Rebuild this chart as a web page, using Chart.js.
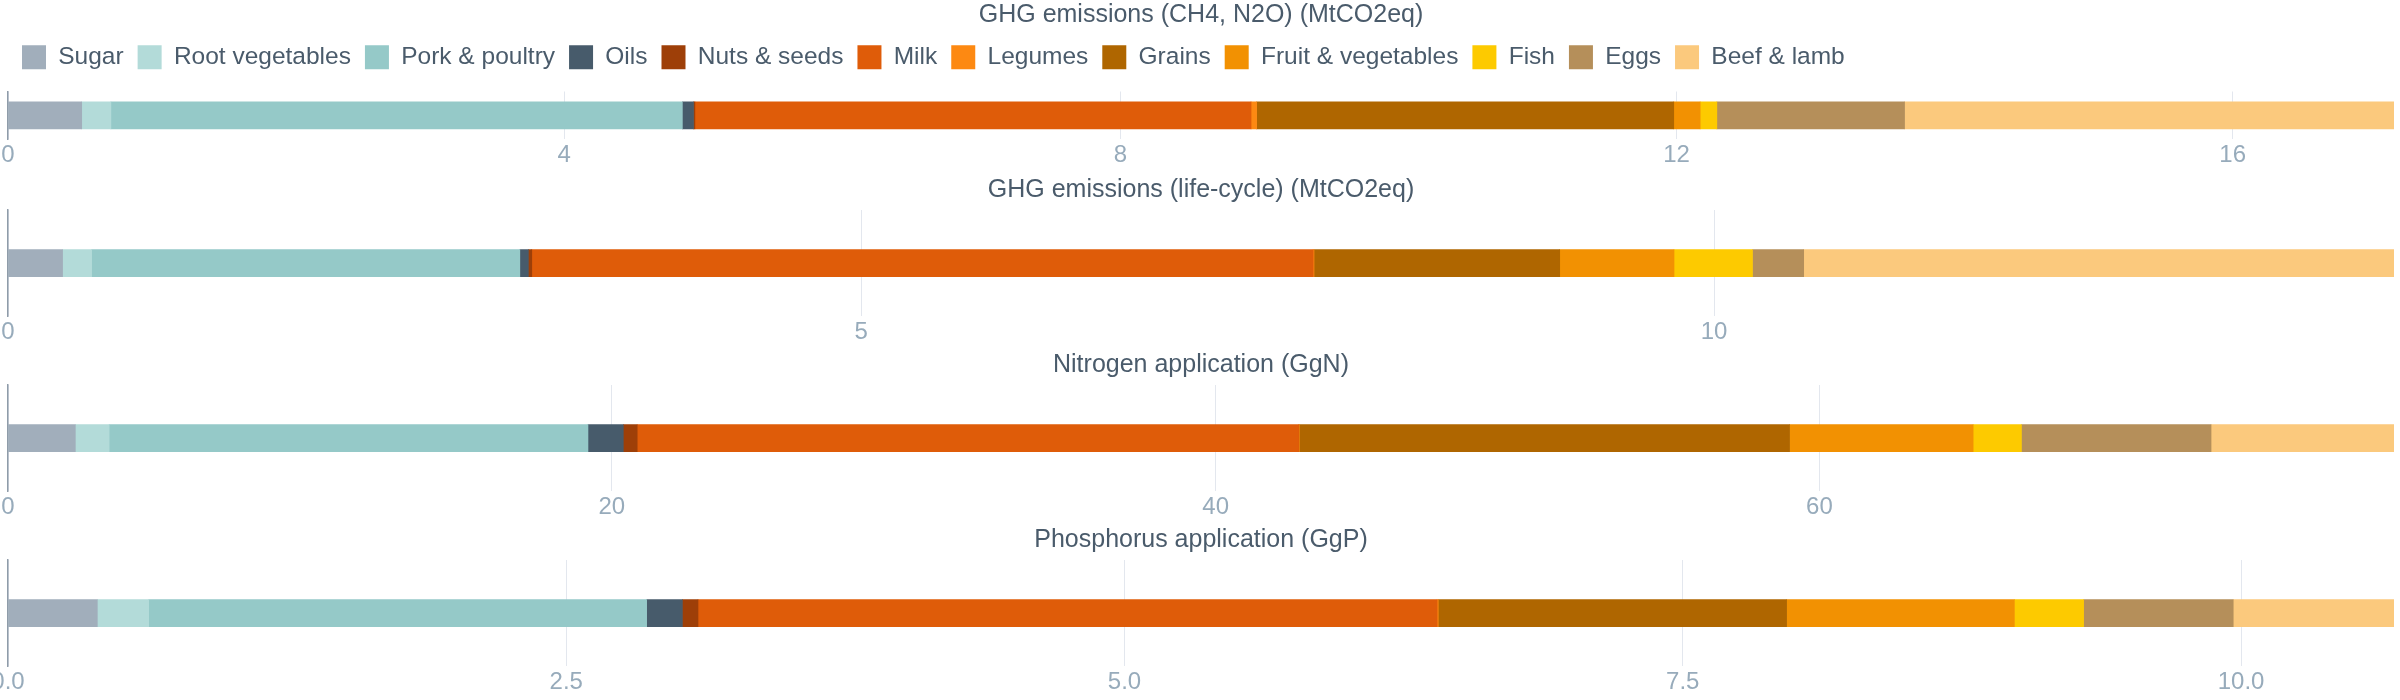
<!DOCTYPE html>
<html lang="en">

<head>
    <meta charset="UTF-8">
    <title>Food groups: emissions and nutrient application</title>
    <!-- Chart.js -->
    <script src="https://cdn.jsdelivr.net/npm/chart.js"></script>
    <style>
        body { margin: 0; background: #ffffff; }
        canvas { display: block; }
    </style>
</head>

<body>
    <canvas id="chart_0" width="2400" height="175"></canvas>
    <canvas id="chart_1" width="2400" height="175"></canvas>
    <canvas id="chart_2" width="2400" height="175"></canvas>
    <canvas id="chart_3" width="2400" height="175"></canvas>
    <script>
        // food groups, in stacking order
        const categories = ["Sugar", "Root vegetables", "Pork & poultry", "Oils", "Nuts & seeds", "Milk",
            "Legumes", "Grains", "Fruit & vegetables", "Fish", "Eggs", "Beef & lamb"];

        // one value per food group for each panel
        const ghgDirect = [0.53, 0.21, 4.11, 0.08, 0.01, 4.00, 0.04, 3.00, 0.19, 0.12, 1.35, 3.52];
        const ghgLifeCycle = [0.32, 0.17, 2.51, 0.05, 0.02, 4.58, 0.005, 1.44, 0.67, 0.46, 0.30, 3.46];
        const nitrogen = [2.23, 1.12, 15.86, 1.17, 0.46, 21.91, 0.02, 16.24, 6.08, 1.60, 6.28, 6.06];
        const phosphorus = [0.40, 0.23, 2.23, 0.16, 0.07, 3.31, 0.005, 1.56, 1.02, 0.31, 0.67, 0.72];

        const panelTitles = ["GHG emissions (CH4, N2O) (MtCO2eq)", "GHG emissions (life-cycle) (MtCO2eq)",
            "Nitrogen application (GgN)", "Phosphorus application (GgP)"];
        const panelValues = [ghgDirect, ghgLifeCycle, nitrogen, phosphorus];
        const tickSteps = [4, 5, 20, 2.5];
        const tickDecimals = [0, 0, 0, 1];

        const colors = ["#a1aebb", "#b3dbd9", "#95c9c8", "#475b6b", "#9e3f08", "#df5c09",
            "#fd8912", "#af6600", "#f29102", "#fdca00", "#b58f5a", "#fbc97d"];

        const textColor = "#4a5b6b";
        const tickColor = "#97abbb";

        Chart.defaults.font.family = "'Liberation Sans', Arial, sans-serif";
        Chart.defaults.animation = false;

        // a bit more room between the legend and the first bar
        const legendSpacing = {
            id: "legendSpacing",
            beforeInit(chart) {
                const fit = chart.legend.fit;
                chart.legend.fit = function () {
                    fit.bind(chart.legend)();
                    this.height += 12;
                };
            }
        };

        panelValues.forEach((values, i) => {
            const first = i === 0;
            const total = values.reduce((a, b) => a + b, 0);

            new Chart("chart_" + i, {
                type: "bar",
                data: {
                    labels: [panelTitles[i]],
                    datasets: categories.map((name, k) => ({
                        label: name,
                        data: [values[k]],
                        backgroundColor: colors[k],
                        borderWidth: 0,
                        barThickness: 27
                    }))
                },
                plugins: first ? [legendSpacing] : [],
                options: {
                    responsive: false,
                    indexAxis: "y",
                    layout: { padding: { left: 8, right: 6, top: 0, bottom: first ? 3 : 1 } },
                    plugins: {
                        title: {
                            display: true,
                            text: panelTitles[i],
                            color: textColor,
                            font: { size: 25, weight: "normal" },
                            padding: { top: 0, bottom: first ? 1 : 5 }
                        },
                        legend: {
                            display: first,
                            position: "top",
                            align: "start",
                            labels: {
                                boxWidth: 24,
                                boxHeight: 24,
                                padding: 14,
                                color: textColor,
                                font: { size: 24.5 }
                            }
                        },
                        tooltip: { enabled: false }
                    },
                    scales: {
                        x: {
                            stacked: true,
                            min: 0,
                            max: total,
                            border: { display: false },
                            grid: { color: "#e3e7ee", drawTicks: false },
                            ticks: {
                                stepSize: tickSteps[i],
                                includeBounds: false,
                                maxRotation: 0,
                                autoSkip: false,
                                padding: 2,
                                color: tickColor,
                                font: { size: 24 },
                                callback: value => Number(value).toFixed(tickDecimals[i])
                            },
                            // let the "0" label hang over the left edge
                            afterFit: scale => {
                                scale.paddingLeft = 0;
                                scale.paddingRight = 0;
                            }
                        },
                        y: {
                            stacked: true,
                            grid: { display: false, drawTicks: false },
                            ticks: { display: false },
                            border: { display: true, color: "#8f9ca9", width: 1.5 }
                        }
                    }
                }
            });
        });
    </script>
</body>

</html>
